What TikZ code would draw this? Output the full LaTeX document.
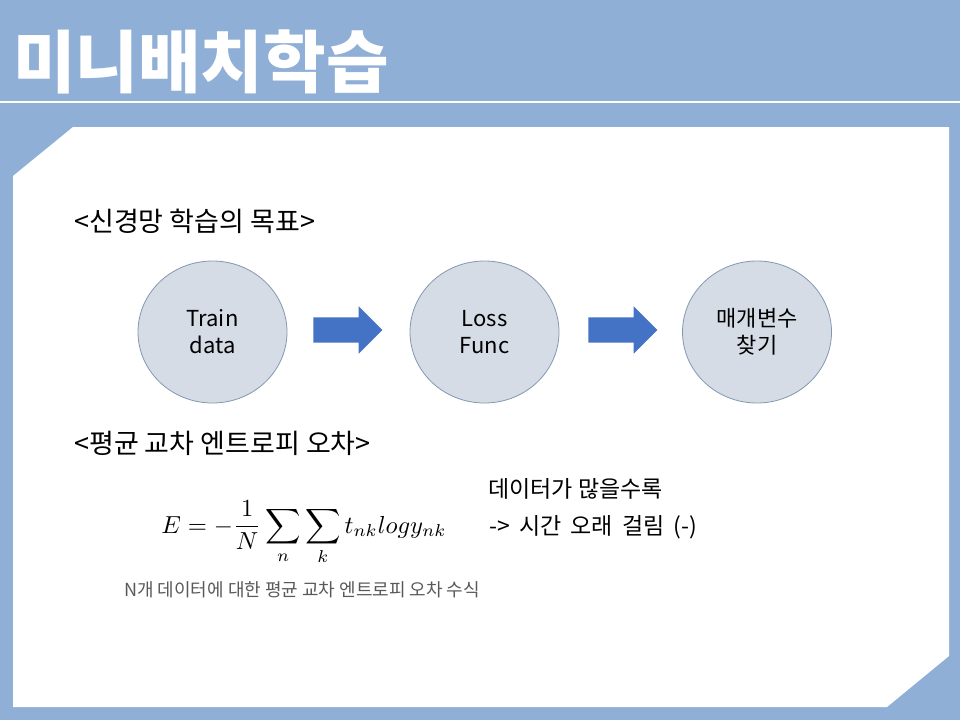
\documentclass[tikz,border=0pt]{standalone}
\usepackage{fontspec}
\setmainfont{Noto Sans CJK KR}
\newfontfamily\widespacefont{Noto Sans CJK KR}[WordSpace=1.8]
\usetikzlibrary{shapes.geometric,shapes.arrows}
\definecolor{bgblue}{HTML}{8FAFD6}
\definecolor{circfill}{HTML}{D6DCE5}
\definecolor{circline}{HTML}{8497B0}
\definecolor{arrowblue}{HTML}{4472C4}
\definecolor{captgray}{HTML}{595959}
\tikzset{
  stage/.style={ellipse, draw=circline, line width=0.8pt, fill=circfill,
    minimum width=149pt, minimum height=142pt, inner sep=0pt, align=center,
    font=\fontsize{22}{27}\selectfont},
  blockarrow/.style={single arrow, fill=arrowblue, draw=none, inner xsep=0pt,
    inner ysep=12.5pt, minimum height=69pt, single arrow head extend=11pt,
    single arrow tip angle=90},
  heading/.style={anchor=west, inner sep=0pt, font=\fontsize{27}{31}\selectfont},
  note/.style={anchor=west, inner sep=0pt, font=\fontsize{23}{27}\selectfont},
}
\begin{document}
\begin{tikzpicture}[x=1pt,y=-1pt]
\fill[bgblue] (0,0) rectangle (960,720);
\useasboundingbox (0,0) rectangle (960,720);
\draw[white, line width=2pt] (0,102) -- (960,102);
\fill[white] (73,127) -- (949,127) -- (949,656) -- (887,707) -- (13,707) -- (13,176) -- cycle;
\node[anchor=base west, inner sep=0pt, text=white, font=\fontsize{68}{74}\selectfont\bfseries] (title) at (13,87) {미니배치학습};
\node[heading] (h1) at (74,221) {<신경망 학습의 목표>};
\node[stage] (train) at (212.5,332) {Train\\data};
\node[stage] (loss) at (484.5,332) {Loss\\Func};
\node[stage] (param) at (757,332) {매개변수\\찾기};
\node[blockarrow] (a1) at (341.5,330) {};
\node[blockarrow] (a2) at (616.5,330) {};
\node[heading] (h2) at (74,443) {<평균 교차 엔트로피 오차>};
\node[scale=2.46, inner sep=0pt, anchor=base] (eq) at (304,533) {$\displaystyle E=-\frac{1}{N}\sum_n\sum_k t_{nk}logy_{nk}$};
\node[note] (n1) at (488,489) {데이터가 많을수록};
\node[note, font=\fontsize{23}{27}\widespacefont] (n2) at (489,527) {-> 시간 오래 걸림 (-)};
\node[anchor=west, inner sep=0pt, text=captgray, font=\fontsize{18}{21}\selectfont] (cap) at (124,590) {N개 데이터에 대한 평균 교차 엔트로피 오차 수식};
\end{tikzpicture}
\end{document}
